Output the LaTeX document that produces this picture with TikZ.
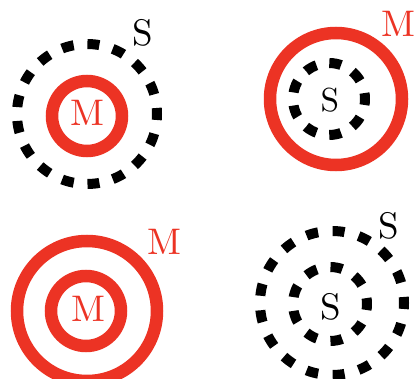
\documentclass[tikz,border=0pt]{standalone}
\definecolor{ringred}{RGB}{236,51,36}
\tikzset{
  redring/.style={draw=ringred, line width=12.5pt},
  dotring/.style={draw=black, line width=10pt, dash pattern=on 12pt off #1pt, dash phase=6pt},
  lbl/.style={inner sep=0pt, scale=3.7, transform shape},
}
\begin{document}
\begin{tikzpicture}[x=1pt, y=-1pt]
    \useasboundingbox (0,0) rectangle (420,379);
    \clip (0,0) rectangle (420,379);

    % oben links: S um M
    \draw[dotring=13.87] (87,114) circle (70);
    \draw[redring] (87,116) circle (35);
    \node[lbl, text=ringred] (mInnerA) at (87.5,113) {M};
    \node[lbl] (sOuterA) at (143,33) {S};

    % oben rechts: M um S
    \draw[redring] (336,99) circle (66);
    \draw[dotring=13.13] (329,99) circle (36);
    \node[lbl, scale=0.9] (sInnerB) at (330,100) {S};
    \node[lbl, text=ringred] (mOuterB) at (398,24) {M};

    % unten links: M um M
    \draw[redring] (87,311) circle (70);
    \draw[redring] (86,311) circle (35);
    \node[lbl, text=ringred] (mInnerC) at (88.5,309) {M};
    \node[lbl, text=ringred] (mOuterC) at (164,242) {M};

    % unten rechts: S um S
    \draw[dotring=14.61] (332,303) circle (72);
    \draw[dotring=13.83] (330,304) circle (37);
    \node[lbl] (sInnerD) at (331,307) {S};
    \node[lbl] (sOuterD) at (389,226) {S};
\end{tikzpicture}
\end{document}
